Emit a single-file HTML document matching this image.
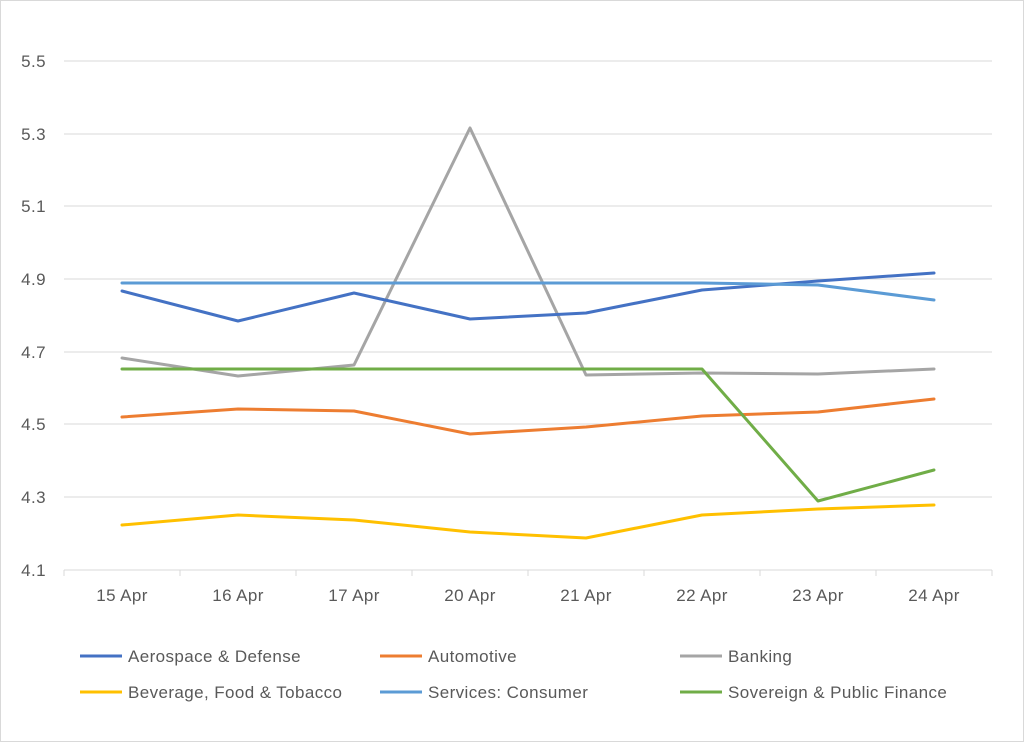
<!DOCTYPE html>
<html><head><meta charset="utf-8"><style>
html,body{margin:0;padding:0;background:#fff}
svg{display:block}
text{font-family:"Liberation Sans",sans-serif;fill:#595959;letter-spacing:0.4px}
</style></head><body>
<svg width="1024" height="742" viewBox="0 0 1024 742">
<rect x="0.5" y="0.5" width="1023" height="741" fill="#fff" stroke="#d9d9d9"/>
<g stroke="#d9d9d9" stroke-width="1">
<line x1="64" x2="992" y1="61" y2="61"/><line x1="64" x2="992" y1="134" y2="134"/>
<line x1="64" x2="992" y1="206" y2="206"/><line x1="64" x2="992" y1="279" y2="279"/>
<line x1="64" x2="992" y1="352" y2="352"/><line x1="64" x2="992" y1="424" y2="424"/>
<line x1="64" x2="992" y1="497" y2="497"/><line x1="64" x2="992" y1="570" y2="570"/>
<line x1="64" x2="64" y1="570" y2="576"/><line x1="180" x2="180" y1="570" y2="576"/>
<line x1="296" x2="296" y1="570" y2="576"/><line x1="412" x2="412" y1="570" y2="576"/>
<line x1="528" x2="528" y1="570" y2="576"/><line x1="644" x2="644" y1="570" y2="576"/>
<line x1="760" x2="760" y1="570" y2="576"/><line x1="876" x2="876" y1="570" y2="576"/>
<line x1="992" x2="992" y1="570" y2="576"/>
</g>
<g font-size="17" text-anchor="end">
<text x="46" y="67">5.5</text><text x="46" y="140">5.3</text><text x="46" y="212">5.1</text>
<text x="46" y="285">4.9</text><text x="46" y="358">4.7</text><text x="46" y="430">4.5</text>
<text x="46" y="503">4.3</text><text x="46" y="576">4.1</text>
</g>
<g font-size="17" text-anchor="middle">
<text x="122" y="601">15 Apr</text><text x="238" y="601">16 Apr</text><text x="354" y="601">17 Apr</text>
<text x="470" y="601">20 Apr</text><text x="586" y="601">21 Apr</text><text x="702" y="601">22 Apr</text>
<text x="818" y="601">23 Apr</text><text x="934" y="601">24 Apr</text>
</g>
<g fill="none" stroke-width="3" stroke-linejoin="round" stroke-linecap="round">
<polyline stroke="#ffc000" points="122,525 238,515 354,520 470,532 586,538 702,515 818,509 934,505"/>
<polyline stroke="#ed7d31" points="122,417 238,409 354,411 470,434 586,427 702,416 818,412 934,399"/>
<polyline stroke="#a5a5a5" points="122,358 238,376 354,365 470,128 586,375 702,373 818,374 934,369"/>
<polyline stroke="#70ad47" points="122,369 238,369 354,369 470,369 586,369 702,369 818,501 934,470"/>
<polyline stroke="#4472c4" points="122,291 238,321 354,293 470,319 586,313 702,290 818,281 934,273"/>
<polyline stroke="#5b9bd5" points="122,283 238,283 354,283 470,283 586,283 702,283 818,285 934,300"/>
</g>
<g stroke-width="3">
<line x1="80" x2="122" y1="656" y2="656" stroke="#4472c4"/>
<line x1="380" x2="422" y1="656" y2="656" stroke="#ed7d31"/>
<line x1="680" x2="722" y1="656" y2="656" stroke="#a5a5a5"/>
<line x1="80" x2="122" y1="692" y2="692" stroke="#ffc000"/>
<line x1="380" x2="422" y1="692" y2="692" stroke="#5b9bd5"/>
<line x1="680" x2="722" y1="692" y2="692" stroke="#70ad47"/>
</g>
<g font-size="17">
<text x="128" y="662">Aerospace &amp; Defense</text>
<text x="428" y="662">Automotive</text>
<text x="728" y="662">Banking</text>
<text x="128" y="698">Beverage, Food &amp; Tobacco</text>
<text x="428" y="698">Services: Consumer</text>
<text x="728" y="698">Sovereign &amp; Public Finance</text>
</g>
</svg>
</body></html>
